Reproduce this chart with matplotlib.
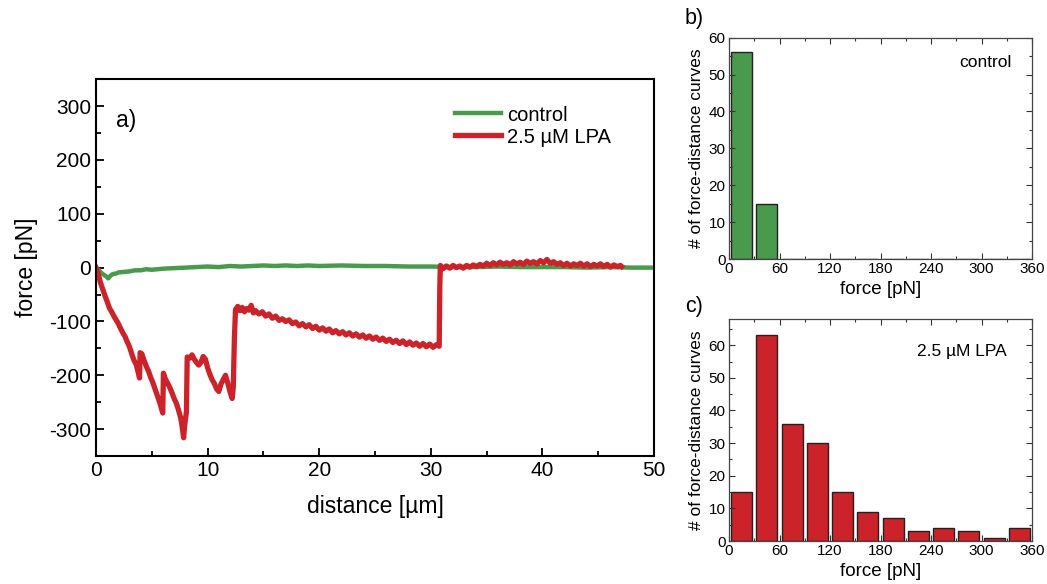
import numpy as np
import matplotlib
matplotlib.use('Agg')
from matplotlib import pyplot as plt
from matplotlib.ticker import MultipleLocator

plt.rcParams['font.family'] = ['Liberation Sans', 'DejaVu Sans']
plt.rcParams['axes.unicode_minus'] = False

GREEN = '#4a9a4e'
RED = '#cc2229'

# force-distance traces (distance in um, force in pN)
control_x = [0.0, 0.3, 0.6, 0.9, 1.1, 1.3, 1.5, 1.8, 2.0, 2.5, 3.0, 3.5, 4.0, 4.5, 5.0,
             6.0, 7.0, 8.0, 9.0, 10.0, 11.0, 12.0, 13.0, 14.0, 15.0, 16.0, 17.0, 18.0,
             19.0, 20.0, 22.0, 24.0, 26.0, 28.0, 30.0, 32.0, 34.0, 36.0, 38.0, 40.0,
             42.0, 44.0, 46.0, 48.0, 49.7]
control_f = [0, -6, -12, -16, -20, -15, -12, -11, -9, -8, -7, -5, -5, -3, -4,
             -2, -1, 0, 1, 2, 1, 3, 2, 3, 4, 3, 4, 3,
             4, 3, 4, 3, 3, 2, 2, 1, 1, 2, 1, 1,
             1, 0, 1, 0, 0]

lpa_x = [0.0, 0.2, 0.4, 0.6, 0.8, 1.0, 1.2, 1.4, 1.6, 1.8, 2.0, 2.2, 2.4, 2.6, 2.8,
         3.0, 3.2, 3.4, 3.6, 3.8, 3.9, 3.95, 4.1, 4.3, 4.5, 4.7, 4.9, 5.1, 5.3, 5.5,
         5.7, 5.9, 5.98, 6.04, 6.2, 6.4, 6.6, 6.8, 7.0, 7.2, 7.4, 7.6, 7.75, 7.85,
         7.95, 8.1, 8.17, 8.4, 8.6, 8.8, 9.0, 9.2, 9.4, 9.6, 9.8, 10.0, 10.2, 10.4,
         10.6, 10.8, 11.0, 11.2, 11.4, 11.6, 11.8, 12.0, 12.2, 12.3, 12.4, 12.5,
         12.7, 12.9, 13.1, 13.3, 13.5, 13.7, 13.9, 14.1, 14.3, 14.6, 14.9, 15.2,
         15.5, 15.8, 16.1, 16.4, 16.7, 17.0, 17.3, 17.6, 17.9, 18.2, 18.5, 18.8,
         19.1, 19.4, 19.7, 20.0, 20.3, 20.6, 20.9, 21.2, 21.5, 21.8, 22.1, 22.4,
         22.7, 23.0, 23.3, 23.6, 23.9, 24.2, 24.5, 24.8, 25.1, 25.4, 25.7, 26.0,
         26.3, 26.6, 26.9, 27.2, 27.5, 27.8, 28.1, 28.4, 28.7, 29.0, 29.3, 29.6,
         29.9, 30.2, 30.5, 30.75, 30.8, 30.85, 31.1, 31.4, 31.7, 32.0, 32.3, 32.6,
         32.9, 33.2, 33.5, 33.8, 34.1, 34.4, 34.7, 35.0, 35.3, 35.6, 35.9, 36.2,
         36.5, 36.8, 37.1, 37.4, 37.7, 38.0, 38.3, 38.6, 38.9, 39.2, 39.5, 39.8,
         40.1, 40.4, 40.7, 41.0, 41.3, 41.6, 41.9, 42.2, 42.5, 42.8, 43.1, 43.4,
         43.7, 44.0, 44.3, 44.6, 44.9, 45.2, 45.5, 45.8, 46.1, 46.4, 46.7, 47.0, 47.1]
lpa_f = [0, -12, -28, -40, -52, -63, -75, -82, -90, -97, -104, -113, -121, -128, -138,
         -147, -160, -172, -180, -196, -205, -158, -160, -172, -183, -192, -204, -214, -226, -238,
         -250, -264, -270, -196, -206, -214, -222, -232, -243, -252, -265, -280, -300, -316,
         -292, -268, -166, -168, -162, -170, -176, -181, -176, -165, -170, -186, -198, -208,
         -215, -225, -230, -216, -208, -200, -214, -230, -243, -222, -130, -78,
         -72, -80, -74, -82, -76, -79, -70, -84, -80, -86, -82, -90,
         -86, -94, -90, -98, -95, -100, -97, -104, -101, -108, -104, -110,
         -106, -113, -109, -116, -112, -118, -114, -121, -117, -123, -119, -125,
         -121, -127, -123, -129, -125, -131, -127, -133, -129, -135, -131, -137,
         -133, -139, -135, -141, -136, -143, -138, -144, -140, -146, -141, -147,
         -142, -148, -143, -146, -40, 4, -2, 3, -1, 4, 0, 3,
         -1, 4, 1, 5, 2, 6, 3, 8, 4, 9, 5, 10,
         6, 9, 5, 11, 7, 10, 6, 12, 8, 11, 7, 13,
         9, 15, 8, 11, 6, 9, 4, 8, 3, 7, 4, 8,
         3, 7, 2, 6, 3, 7, 2, 6, 1, 5, 2, 4, 2]

# rupture force histograms
bin_centers = [15, 45, 75, 105, 135, 165, 195, 225, 255, 285, 315, 345]
counts_control = [56, 15, 0, 0, 0, 0, 0, 0, 0, 0, 0, 0]
counts_lpa = [15, 63, 36, 30, 15, 9, 7, 3, 4, 3, 1, 4]

fig = plt.figure(figsize=(10.47, 5.84), dpi=100)

# a) traces
ax = fig.add_axes([0.0917, 0.219, 0.533, 0.6455])
ax.plot(control_x, control_f, color=GREEN, lw=3.2, label='control',
        solid_joinstyle='round')
ax.plot(lpa_x, lpa_f, color=RED, lw=3.8, label='2.5 µM LPA',
        solid_joinstyle='round')
ax.set_xlim(0, 50)
ax.set_ylim(-350, 350)
ax.xaxis.set_major_locator(MultipleLocator(10))
ax.xaxis.set_minor_locator(MultipleLocator(5))
ax.yaxis.set_major_locator(MultipleLocator(100))
ax.yaxis.set_minor_locator(MultipleLocator(50))
ax.tick_params(which='both', direction='in', labelsize=15, width=1.3)
ax.tick_params(which='major', length=6)
ax.tick_params(which='minor', length=3.5)
for s in ax.spines.values():
    s.set_linewidth(1.5)
ax.set_xlabel('distance [µm]', fontsize=16.5, labelpad=11)
ax.set_ylabel('force [pN]', fontsize=16.5, labelpad=8)
ax.legend(loc='upper left', bbox_to_anchor=(0.643, 0.93), frameon=False,
          fontsize=14.5, handlelength=2.3, handletextpad=0.3, labelspacing=0.15,
          borderpad=0, borderaxespad=0)

# b) and c) histograms
hist_axes = [
    ([0.6963, 0.5565, 0.2894, 0.379], counts_control, GREEN, 60, 'control', (0.845, 0.89)),
    ([0.6963, 0.0736, 0.2894, 0.380], counts_lpa, RED, 68, '2.5 µM LPA', (0.77, 0.856)),
]
for rect, counts, color, ymax, txt, txy in hist_axes:
    hx = fig.add_axes(rect)
    hx.bar(bin_centers, counts, width=25, color=color, edgecolor='#222222', linewidth=1)
    hx.set_xlim(0, 360)
    hx.set_ylim(0, ymax)
    hx.xaxis.set_major_locator(MultipleLocator(60))
    hx.xaxis.set_minor_locator(MultipleLocator(30))
    hx.yaxis.set_major_locator(MultipleLocator(10))
    hx.yaxis.set_minor_locator(MultipleLocator(5))
    hx.tick_params(which='both', direction='in', top=True, right=True,
                   labelsize=11, width=0.8, color='#333333', pad=2.5)
    hx.tick_params(which='major', length=4)
    hx.tick_params(which='minor', length=2)
    for s in hx.spines.values():
        s.set_linewidth(0.9)
        s.set_color('#444444')
    hx.set_xlabel('force [pN]', fontsize=13.5, labelpad=3)
    hx.set_ylabel('# of force-distance curves', fontsize=12.5, labelpad=3)
    hx.text(txy[0], txy[1], txt, transform=hx.transAxes, ha='center', va='center',
            fontsize=12.5)

fig.text(0.1204, 0.7945, 'a)', ha='center', va='center', fontsize=16.5)
fig.text(0.663, 0.969, 'b)', ha='center', va='center', fontsize=15.5)
fig.text(0.663, 0.476, 'c)', ha='center', va='center', fontsize=15.5)

fig.savefig('out.png', dpi=100)
